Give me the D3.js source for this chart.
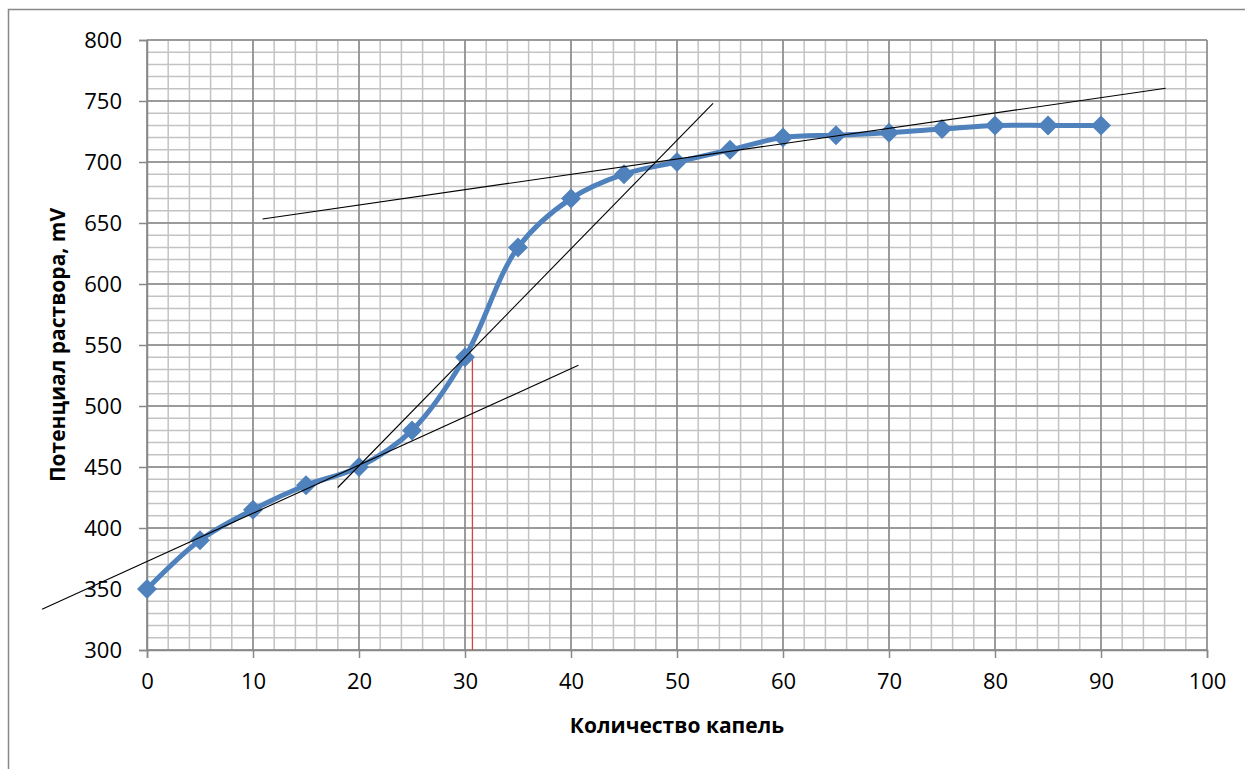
<!DOCTYPE html>
<html lang="ru">
<head>
<meta charset="UTF-8">
<title>Потенциал раствора</title>
<script src="https://d3js.org/d3.v7.min.js"></script>
<style>
  body { margin: 0; background: #fff; }
  text { font-family: "Open Sans", "Liberation Sans", sans-serif; }
</style>
</head>
<body>
<div id="chart"></div>
<script>
// данные кривой титрования
const drops = [0, 5, 10, 15, 20, 25, 30, 35, 40, 45, 50, 55, 60, 65, 70, 75, 80, 85, 90];
const potential = [350, 390, 415, 435, 450, 480, 540, 630, 670, 690, 700, 710, 720, 722, 724, 727, 730, 730, 730];

// касательные (начало и конец в координатах данных)
const tangentX = [[-9.9, 40.7], [18.0, 53.4], [10.9, 96.1]];
const tangentY = [[333.4, 533.4], [433.2, 748.1], [653.3, 760.4]];

// точка эквивалентности
const eqX = 30.7;
const eqY = 541.8;

const xTicks = [0, 10, 20, 30, 40, 50, 60, 70, 80, 90, 100];
const yTicks = [300, 350, 400, 450, 500, 550, 600, 650, 700, 750, 800];

const width = 1245, height = 769;
const plotLeft = 147, plotRight = 1207, plotTop = 40, plotBottom = 650;

const svg = d3.select('#chart').append('svg')
    .attr('width', width)
    .attr('height', height);

// рамка диаграммы
svg.append('rect')
    .attr('x', 8.5).attr('y', 9.5)
    .attr('width', 1250).attr('height', 800)
    .attr('fill', 'none').attr('stroke', '#888').attr('stroke-width', 1.5);

const x = d3.scaleLinear().domain([0, 100]).range([plotLeft, plotRight]);
const y = d3.scaleLinear().domain([300, 800]).range([plotBottom, plotTop]);

// сетка: мелкая
const grid = svg.append('g');
grid.selectAll('line.vminor')
    .data(d3.range(0, 101, 2))
    .join('line')
    .attr('x1', d => x(d)).attr('x2', d => x(d))
    .attr('y1', plotTop).attr('y2', plotBottom)
    .attr('stroke', '#c3c3c3').attr('stroke-width', 1.5);
grid.selectAll('line.hminor')
    .data(d3.range(300, 801, 10))
    .join('line')
    .attr('x1', plotLeft).attr('x2', plotRight)
    .attr('y1', d => y(d)).attr('y2', d => y(d))
    .attr('stroke', '#c3c3c3').attr('stroke-width', 1.5);

// сетка: основная
grid.selectAll('line.vmajor')
    .data(xTicks)
    .join('line')
    .attr('x1', d => x(d)).attr('x2', d => x(d))
    .attr('y1', plotTop).attr('y2', plotBottom)
    .attr('stroke', '#888').attr('stroke-width', 1.5);
grid.selectAll('line.hmajor')
    .data(yTicks)
    .join('line')
    .attr('x1', plotLeft).attr('x2', plotRight)
    .attr('y1', d => y(d)).attr('y2', d => y(d))
    .attr('stroke', '#888').attr('stroke-width', 1.5);

// оси
const xAxis = svg.append('g')
    .attr('transform', `translate(0,${plotBottom})`)
    .call(d3.axisBottom(x).tickValues(xTicks).tickSize(8).tickPadding(15));
const yAxis = svg.append('g')
    .attr('transform', `translate(${plotLeft},0)`)
    .call(d3.axisLeft(y).tickValues(yTicks).tickSize(8).tickPadding(17));
[xAxis, yAxis].forEach(a => {
    a.select('.domain').attr('stroke', '#888').attr('stroke-width', 1.5);
    a.selectAll('.tick line').attr('stroke', '#888').attr('stroke-width', 1.5);
    a.selectAll('.tick text').attr('font-size', '22px').attr('fill', '#000')
        .style('font-family', '"Open Sans", sans-serif');
});

// вертикаль к точке эквивалентности
svg.append('line')
    .attr('x1', x(eqX)).attr('x2', x(eqX))
    .attr('y1', y(eqY)).attr('y2', y(300))
    .attr('stroke', '#d9413f').attr('stroke-width', 1.3);

// кривая
const pts = drops.map((d, i) => [d, potential[i]]);
svg.append('path')
    .datum(pts)
    .attr('d', d3.line().x(d => x(d[0])).y(d => y(d[1])).curve(d3.curveCatmullRom.alpha(0.5)))
    .attr('fill', 'none')
    .attr('stroke', '#4f81bd')
    .attr('stroke-width', 5);

// маркеры-ромбы
svg.selectAll('path.marker')
    .data(pts)
    .join('path')
    .attr('class', 'marker')
    .attr('transform', d => `translate(${x(d[0])},${y(d[1])})`)
    .attr('d', 'M0,-10L10,0L0,10L-10,0Z')
    .attr('fill', '#4f81bd');

// касательные
svg.selectAll('line.tangent')
    .data(tangentX)
    .join('line')
    .attr('x1', d => x(d[0])).attr('x2', d => x(d[1]))
    .attr('y1', (d, i) => y(tangentY[i][0])).attr('y2', (d, i) => y(tangentY[i][1]))
    .attr('stroke', '#000').attr('stroke-width', 1.1);

// подписи осей
svg.append('text')
    .attr('x', (plotLeft + plotRight) / 2).attr('y', 733)
    .attr('text-anchor', 'middle')
    .attr('font-size', '21px').attr('font-weight', 'bold')
    .text('Количество капель');
svg.append('text')
    .attr('transform', `translate(65,${(plotTop + plotBottom) / 2}) rotate(-90)`)
    .attr('text-anchor', 'middle')
    .attr('font-size', '21px').attr('font-weight', 'bold')
    .text('Потенциал раствора, mV');
</script>
</body>
</html>
